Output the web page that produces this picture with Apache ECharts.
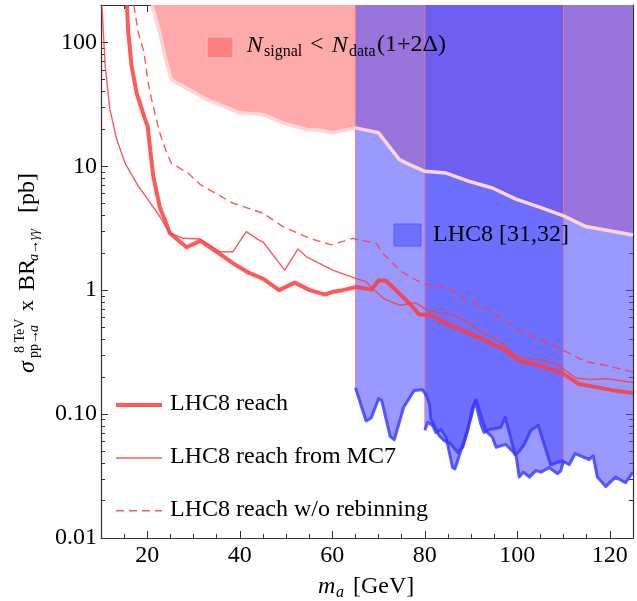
<!DOCTYPE html>
<html><head><meta charset="utf-8">
<script src="https://cdn.jsdelivr.net/npm/echarts@6/dist/echarts.min.js"></script>
<style>html,body{margin:0;padding:0;background:#fff}#c{width:637px;height:601px}</style>
</head><body><div id="c"></div>
<script>
// ---------- data ----------
const xTickLabels = [20, 40, 60, 80, 100, 120];
const xMinorTicks = [15, 25, 30, 35, 45, 50, 55, 65, 70, 75, 85, 90, 95, 105, 110, 115, 125];
const yTickValues = [0.01, 0.1, 1, 10, 100];
const yTickText = ['0.01', '0.10', '1', '10', '100'];
const yMinorTicks = [0.02,0.03,0.04,0.05,0.06,0.07,0.08,0.09,
                     0.2,0.3,0.4,0.5,0.6,0.7,0.8,0.9,
                     2,3,4,5,6,7,8,9,
                     20,30,40,50,60,70,80,90];

// N_signal < N_data(1+2Δ) boundary (region above is excluded)
const pinkBoundary = [[21.0,200],[22.7,120],[23.8,78],[25.2,50],[28.5,42.6],[32.8,34.7],[40,27],[45,26.2],
  [49.3,22.4],[54.4,19.8],[57.2,19.6],[60.1,18.6],[65,20.4],[70,18.6],[74.5,11.3],[76.7,10.3],[80,9.1],
  [84.6,8.8],[89.6,7.55],[94.6,6.67],[99.7,5.43],[105.4,4.59],[110,3.98],[114.8,3.26],[125,2.79]];

// LHC8 [31,32] limits (two searches)
const lhc8LimitA = [[65,0.163],[67.3,0.088],[68.4,0.093],[70,0.133],[70.7,0.128],[72.5,0.066],[73.4,0.062],
  [75.4,0.113],[77.7,0.155],[79.5,0.157],[80.3,0.141],[81,0.12],[81.3,0.091],[83.1,0.067],[84.2,0.061],
  [85.5,0.058],[87.1,0.049],[88.2,0.054],[89.3,0.074],[90.3,0.113],[91.1,0.13],[91.8,0.107],[93.2,0.073],
  [94.6,0.065],[95.4,0.054],[97.5,0.057],[99.7,0.047],[100.4,0.031],[101.3,0.034],[102.6,0.031],[104,0.035],
  [105.1,0.034],[106.9,0.037],[108.7,0.033],[109.4,0.035],[110,0.042]];
const lhc8LimitB = [[80,0.074],[80.6,0.086],[81.7,0.081],[82.4,0.071],[83.5,0.075],[84.6,0.065],[85.3,0.049],
  [86,0.037],[86.5,0.036],[87.5,0.047],[88.5,0.061],[90,0.094],[90.9,0.128],[92.1,0.083],[92.8,0.071],
  [93.9,0.075],[96.4,0.078],[97.4,0.094],[99.5,0.047],[100.4,0.05],[101.5,0.057],[102.9,0.074],[104.5,0.081],
  [107.2,0.039],[109.7,0.042],[111.2,0.039],[112.5,0.048],[115.5,0.043],[116.4,0.046],[117.3,0.031],
  [119.1,0.026],[121.2,0.031],[123.4,0.028],[125,0.034]];

// LHC8 reach curves
const lhc8Reach = [[15.6,200],[15.9,120],[16.6,65],[17.7,39],[19.5,24],[20.1,21],[20.4,16.4],[21.3,8.3],
  [22.7,4.7],[24.9,2.88],[28.5,2.22],[31.5,2.5],[35,2.04],[38.5,1.65],[42.1,1.37],[45,1.24],[48.5,1.0],
  [51.9,1.15],[55.1,1.0],[58.5,0.92],[60.1,0.97],[62.3,1.0],[65.2,1.06],[68.5,1.01],[70,1.2],[71.6,1.19],
  [74.5,0.94],[76.7,0.78],[78.8,0.635],[81.3,0.63],[84.6,0.537],[88.9,0.46],[92.5,0.4],[96.8,0.337],
  [100.4,0.27],[104.7,0.247],[109.7,0.214],[113.3,0.175],[117,0.165],[120.5,0.156],[125,0.148]];
const lhc8ReachMC7 = [[10.2,200],[10.5,120],[10.9,65],[11.9,29],[13.4,16.4],[15.2,10.6],[18.05,6.9],
  [20.2,5.36],[22.7,3.93],[24.9,2.88],[27.8,2.62],[31.4,2.59],[35.7,2.04],[38.5,2.04],[41.4,2.97],
  [44.3,2.51],[45,2.46],[49.7,1.45],[52.6,2.15],[54.4,1.86],[60.1,1.45],[65.2,1.24],[67.3,1.17],
  [68.7,1.03],[71.3,0.845],[74.5,0.756],[78,0.79],[80.3,0.70],[83.1,0.655],[85.3,0.647],[88.9,0.564],
  [92,0.46],[96.1,0.394],[100,0.288],[104.7,0.274],[108.3,0.257],[112.6,0.196],[115.5,0.19],
  [119.5,0.193],[125,0.18]];
const lhc8ReachNoRebin = [[17.1,200],[18.05,120],[19.3,83],[20.2,47],[20.9,35],[22.7,18.6],[24.2,12.8],
  [25.2,10.6],[28.8,8.8],[31.5,7.1],[38.5,5.04],[45,4.18],[49.3,3.26],[55.1,2.62],[59.8,2.32],[64.4,2.62],
  [65.2,2.57],[69.5,2.39],[70.9,1.98],[74.9,1.41],[79.5,1.13],[84.6,1.06],[88.2,0.88],[93.9,0.69],
  [100.4,0.48],[110,0.326],[114.8,0.266],[119.1,0.247],[125,0.218]];

// ---------- styles ----------
const FONT = "'Liberation Serif','Times New Roman',serif";
const AX = '#333';
const RED = 'rgba(255,60,60,0.85)';
const BLUE_FILL = 'rgba(80,80,255,0.58)';
const BLUE_LINE = 'rgba(55,55,255,0.8)';
const PINK_FILL = '#ffaaaa';
const PINK_EDGE = '#ffd4d4';
const EDGE = 'rgba(240,120,140,0.85)';

function xAx(pos, major) {
  return {
    type: 'value', min: 10, max: 125, position: pos,
    axisLine: { show: major, onZero: false, lineStyle: { color: AX, width: 1.2 } },
    axisTick: { show: true, inside: true, length: major ? 7 : 4,
      customValues: major ? xTickLabels : xMinorTicks, lineStyle: { color: AX, width: 1 } },
    axisLabel: (major && pos === 'bottom') ? { show: true, customValues: xTickLabels, margin: 6,
      fontSize: 24, fontFamily: FONT, color: '#000' } : { show: false },
    splitLine: { show: false }
  };
}
function yAx(pos, major) {
  return {
    type: 'log', logBase: 10, min: 0.01, max: 200, position: pos,
    axisLine: { show: major, onZero: false, lineStyle: { color: AX, width: 1.2 } },
    axisTick: { show: true, inside: true, length: major ? 7 : 4,
      customValues: major ? yTickValues : yMinorTicks, lineStyle: { color: AX, width: 1 } },
    axisLabel: (major && pos === 'left') ? { show: true, customValues: yTickValues, margin: 4,
      fontSize: 24, fontFamily: FONT, color: '#000',
      formatter: v => { const i = yTickValues.findIndex(t => Math.abs(Math.log10(t) - Math.log10(v)) < 1e-6); return i >= 0 ? yTickText[i] : ''; } }
      : { show: false },
    splitLine: { show: false }
  };
}

function curve(data, color, width, type, z) {
  return { type: 'line', data: data, showSymbol: false, symbol: 'none', z: z, silent: true,
    lineStyle: { color: color, width: width, type: type, join: 'round', cap: 'butt' } };
}
function region(data, color, z) {
  return { type: 'line', data: data, showSymbol: false, symbol: 'none', z: z, silent: true,
    lineStyle: { width: 0, opacity: 0 }, areaStyle: { color: color, opacity: 1, origin: 'end' } };
}

const edgePoints = [lhc8LimitA[0], lhc8LimitB[0], lhc8LimitA[lhc8LimitA.length - 1]];
const edgeSeries = edgePoints.map(p => curve([[p[0], p[1]], [p[0], 200]], EDGE, 1, 'solid', 3));

const series = [
  region(pinkBoundary, PINK_FILL, 1),
  region(lhc8LimitA, BLUE_FILL, 2),
  region(lhc8LimitB, BLUE_FILL, 2),
  ...edgeSeries,
  curve(pinkBoundary, PINK_EDGE, 3.5, 'solid', 4),
  curve(lhc8LimitA, BLUE_LINE, 3, 'solid', 5),
  curve(lhc8LimitB, BLUE_LINE, 3, 'solid', 5),
  curve(lhc8ReachNoRebin, RED, 1.4, [8, 5], 6),
  curve(lhc8ReachMC7, RED, 1.4, 'solid', 6),
  curve(lhc8Reach, RED, 4, 'solid', 7)
];

function txt(x, y, text, size, italic, extra) {
  return Object.assign({ type: 'text', x: x, y: y, z: 100, silent: true,
    style: { text: text, fontSize: size, fontFamily: FONT, fontStyle: italic ? 'italic' : 'normal',
      fill: '#000', align: 'left', verticalAlign: 'middle' } }, extra || {});
}

const graphics = [
  // y-axis title (rotated)
  { type: 'group', x: 35.5, y: 373, rotation: Math.PI / 2, z: 100, silent: true, children: [
    txt(0, -8.1, 'σ', 24, true),
    txt(20, -14.7, '8 TeV', 14, false),
    txt(15, -1.2, 'pp→', 14, false),
    txt(41, -1.2, 'a', 14, true),
    txt(62, -8.1, 'x', 22, false),
    txt(82, -8.1, 'BR', 24, false),
    txt(112, -1, 'a', 14, true),
    txt(119, -1, '→γγ', 14, true),
    txt(160, -8.1, '[pb]', 24, false)
  ]},
  // x-axis title
  txt(318, 587, 'm', 24, true),
  txt(336, 593, 'a', 16, true),
  txt(353, 587, '[GeV]', 24, false),
  // pink legend
  { type: 'rect', z: 100, silent: true, shape: { x: 207, y: 37, width: 26, height: 21 },
    style: { fill: '#ff8080', stroke: '#ffc4c4', lineWidth: 1 } },
  txt(246.7, 45.2, 'N', 24, true),
  txt(264, 52.1, 'signal', 16, false),
  txt(310, 45.2, '<', 24, false),
  txt(331.7, 45.2, 'N', 24, true),
  txt(349, 52.1, 'data', 16, false),
  txt(377, 45.2, '(1+2Δ)', 24, false),
  // blue legend
  { type: 'rect', z: 100, silent: true, shape: { x: 394, y: 224, width: 27, height: 22 },
    style: { fill: '#7070ff', stroke: '#5a5aff', lineWidth: 1 } },
  txt(433, 235, 'LHC8 [31,32]', 24, false),
  // line legend
  { type: 'line', z: 100, silent: true, shape: { x1: 116, y1: 405, x2: 162, y2: 405 },
    style: { stroke: RED, lineWidth: 4 } },
  txt(170, 404, 'LHC8 reach', 24, false),
  { type: 'line', z: 100, silent: true, shape: { x1: 116, y1: 458, x2: 162, y2: 458 },
    style: { stroke: RED, lineWidth: 1.4 } },
  txt(170, 456.5, 'LHC8 reach from MC7', 24, false),
  { type: 'line', z: 100, silent: true, shape: { x1: 116, y1: 510.7, x2: 162, y2: 510.7 },
    style: { stroke: RED, lineWidth: 1.4, lineDash: [8, 5] } },
  txt(170, 510, 'LHC8 reach w/o rebinning', 24, false)
];

const chart = echarts.init(document.getElementById('c'), null, { renderer: 'canvas' });
chart.setOption({
  animation: false,
  backgroundColor: '#fff',
  grid: { left: 101, right: 4, top: 5, bottom: 63, containLabel: false },
  xAxis: [xAx('bottom', true), xAx('top', true), xAx('bottom', false), xAx('top', false)],
  yAxis: [yAx('left', true), yAx('right', true), yAx('left', false), yAx('right', false)],
  series: series,
  graphic: graphics
});
</script></body></html>
